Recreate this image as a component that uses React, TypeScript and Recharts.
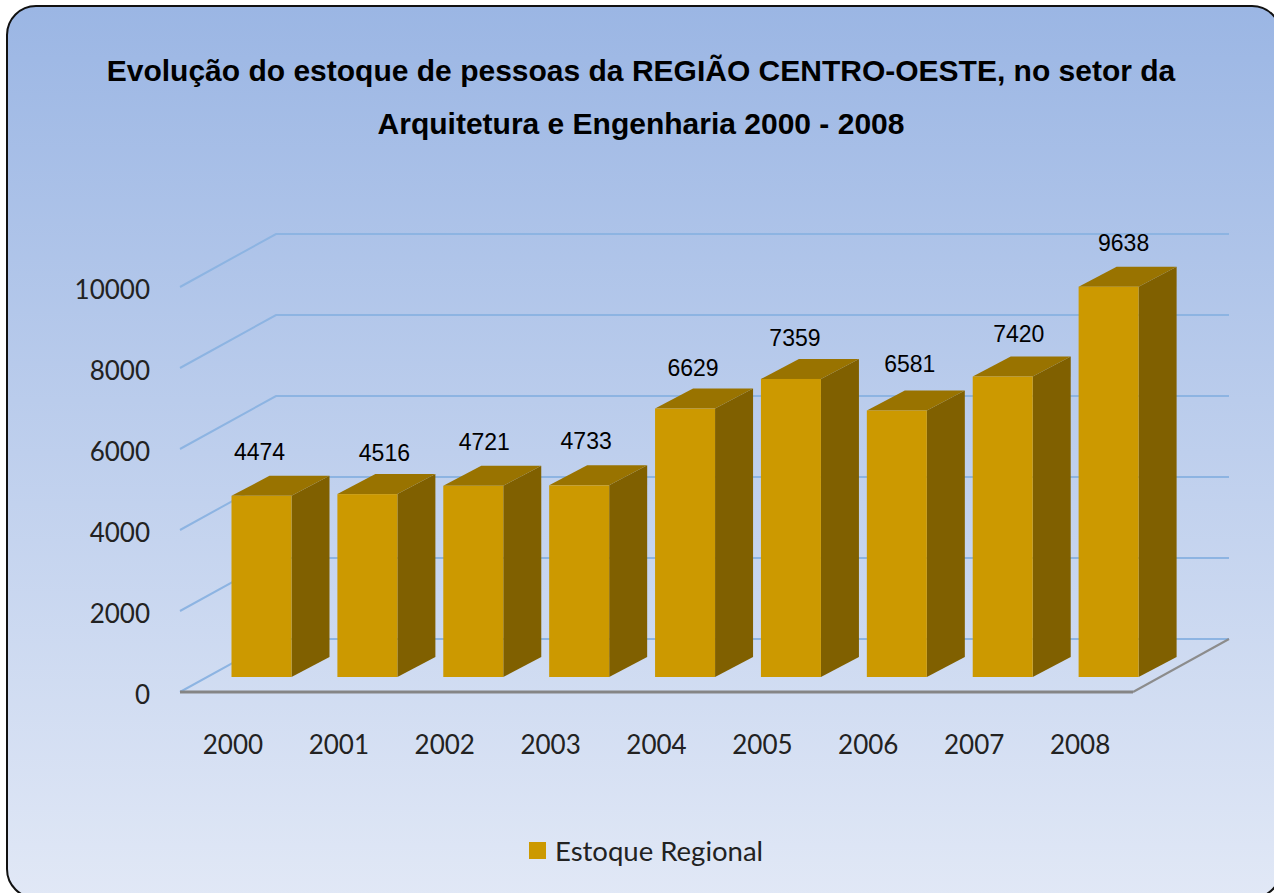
import { Bar, BarChart, CartesianGrid, LabelList, Legend, XAxis, YAxis } from "recharts";

const years = ["2000", "2001", "2002", "2003", "2004", "2005", "2006", "2007", "2008"];
const estoque = [4474, 4516, 4721, 4733, 6629, 7359, 6581, 7420, 9638];
const yTicks = [0, 2000, 4000, 6000, 8000, 10000];

// labels were hand placed in the original, so they sit a bit off the bars
const labelNudgeX = [-2, 17, 11, 7, 8, 4, 13, 16, 15];
const labelNudgeY = [0, 3, 0, 0, 3, 3, -2, 2, 0];

const data = years.map((year, i) => ({ year, estoque: estoque[i], index: i }));

const AXIS_FONT = "Lato, 'Open Sans', sans-serif";
const LABEL_FONT = "'Liberation Sans', Arial, sans-serif";

const PLOT_BOTTOM = 692;
// depth of the floor and of each bar
const WALL_DX = 96;
const WALL_DY = -53;
const BAR_DX = 28.5;
const BAR_DY = -15;
const SIDE_DX = 38;
const SIDE_DY = -20;

const GridLine = (props: any) => {
  const { x1, x2, y1 } = props;
  const isFloor = Math.abs(y1 - PLOT_BOTTOM) < 1;
  return (
    <g key={props.key}>
      <polyline
        points={`${x1},${y1} ${x1 + WALL_DX},${y1 + WALL_DY} ${x2 + WALL_DX},${y1 + WALL_DY}`}
        fill="none"
        stroke="#8db4e2"
        strokeWidth={2}
      />
      {isFloor && (
        <line x1={x2} y1={y1} x2={x2 + WALL_DX} y2={y1 + WALL_DY} stroke="#8c8c8c" strokeWidth={2} />
      )}
    </g>
  );
};

const Bar3D = (props: any) => {
  const { x, y, width, height } = props;
  const left = x + BAR_DX;
  const right = left + width;
  const top = y + BAR_DY;
  const bottom = top + height;
  return (
    <g>
      <polygon
        points={`${right},${top} ${right + SIDE_DX},${top + SIDE_DY} ${right + SIDE_DX},${bottom + SIDE_DY} ${right},${bottom}`}
        fill="#806000"
      />
      <polygon
        points={`${left},${top} ${left + SIDE_DX},${top + SIDE_DY} ${right + SIDE_DX},${top + SIDE_DY} ${right},${top}`}
        fill="#997300"
      />
      <rect x={left} y={top} width={width} height={height} fill="#cc9900" />
    </g>
  );
};

const ValueLabel = (props: any) => {
  const { x, y, width, value, index } = props;
  return (
    <text
      x={x + BAR_DX + width / 2 + labelNudgeX[index]}
      y={y + BAR_DY - 36 + labelNudgeY[index]}
      textAnchor="middle"
      fontFamily={LABEL_FONT}
      fontSize={23}
      fill="#000"
    >
      {value}
    </text>
  );
};

const LegendRow = (props: any) => (
  <div style={{ display: "flex", alignItems: "center", fontFamily: AXIS_FONT, fontSize: 27.5, color: "#222" }}>
    {(props.payload || []).map((item: any) => (
      <span key={item.value} style={{ display: "flex", alignItems: "center" }}>
        <span style={{ width: 17, height: 17, background: item.color, marginRight: 9 }} />
        {item.value}
      </span>
    ))}
  </div>
);

const titleStyle: React.CSSProperties = {
  position: "absolute",
  left: 0,
  width: 1282,
  textAlign: "center",
  fontFamily: LABEL_FONT,
  fontWeight: "bold",
  fontSize: 30,
  color: "#000",
  whiteSpace: "nowrap",
};

export default function App() {
  return (
    <div style={{ position: "absolute", left: 0, top: 0, width: 1274, height: 893, overflow: "hidden", background: "#fff" }}>
      <div
        style={{
          position: "absolute",
          left: 6,
          top: 5,
          width: 1272,
          height: 890,
          borderRadius: 30,
          border: "2px solid #111",
          background: "linear-gradient(180deg, #9bb6e4 0%, #e1e8f6 100%)",
        }}
      />
      <div style={{ ...titleStyle, top: 54 }}>Evolução do estoque de pessoas da REGIÃO CENTRO-OESTE, no setor da</div>
      <div style={{ ...titleStyle, top: 107 }}>Arquitetura e Engenharia 2000 - 2008</div>
      <div style={{ position: "absolute", left: 0, top: 0 }}>
        <BarChart
          width={1274}
          height={893}
          data={data}
          margin={{ top: 287, right: 141, bottom: 141, left: 100 }}
          barSize={60}
        >
          <CartesianGrid vertical={false} horizontal={GridLine} />
          <XAxis
            dataKey="year"
            height={60}
            tickLine={false}
            tickSize={0}
            tickMargin={44}
            axisLine={{ stroke: "#858585", strokeWidth: 3 }}
            tick={{ fontFamily: AXIS_FONT, fontSize: 26, fill: "#222" }}
          />
          <YAxis
            width={80}
            domain={[0, 10000]}
            ticks={yTicks}
            tickLine={false}
            tickSize={0}
            tickMargin={30}
            axisLine={false}
            tick={{ fontFamily: AXIS_FONT, fontSize: 26, fill: "#222", dy: 3 }}
          />
          <Legend
            layout="horizontal"
            align="center"
            verticalAlign="middle"
            wrapperStyle={{ left: 529, top: 834, width: 300, height: 34 }}
            content={LegendRow}
          />
          <Bar dataKey="estoque" name="Estoque Regional" fill="#cc9900" shape={Bar3D} isAnimationActive={false}>
            <LabelList dataKey="estoque" content={ValueLabel} />
          </Bar>
        </BarChart>
      </div>
    </div>
  );
}
